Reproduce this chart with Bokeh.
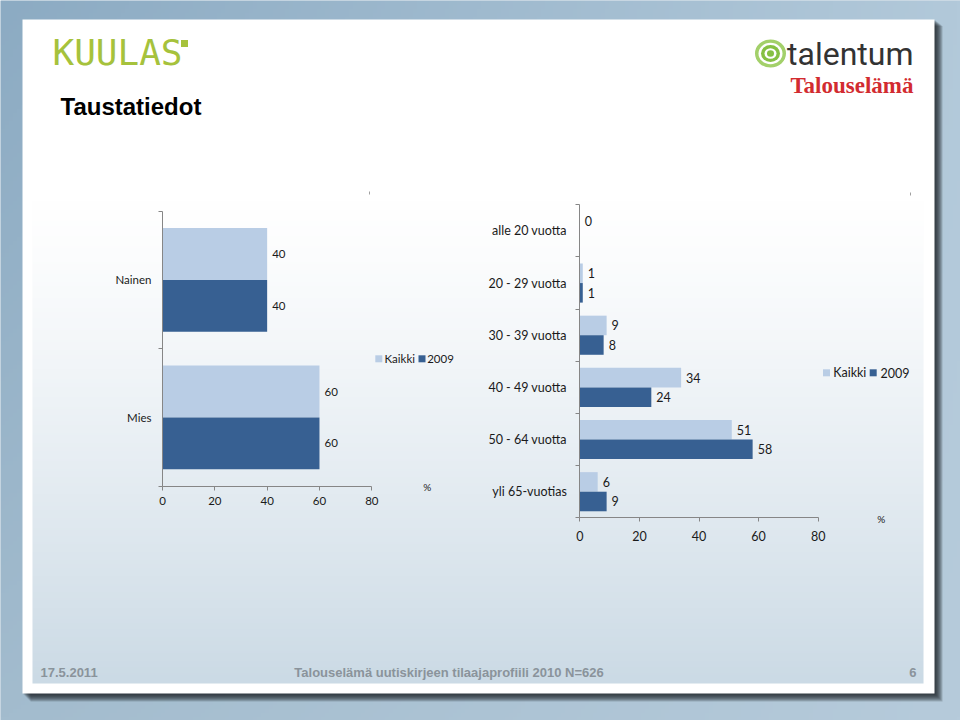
import numpy as np
from bokeh.plotting import figure
from bokeh.models import Range1d, LinearAxis, FixedTicker
from bokeh.core.properties import value
from bokeh.embed import file_html
from bokeh.resources import INLINE

# ---------------- data ----------------
gender_cats = ["Nainen", "Mies"]
gender_kaikki = [40, 60]
gender_2009 = [40, 60]

age_cats = ["alle 20 vuotta", "20 - 29 vuotta", "30 - 39 vuotta",
            "40 - 49 vuotta", "50 - 64 vuotta", "yli 65-vuotias"]
age_kaikki = [0, 1, 9, 34, 51, 6]
age_2009 = [None, 1, 8, 24, 58, 9]

series_names = ["Kaikki", "2009"]
x_ticks = [0, 20, 40, 60, 80]
unit_label = "%"

title_text = "Taustatiedot"
footer_date = "17.5.2011"
footer_source = "Talouselämä uutiskirjeen tilaajaprofiili 2010 N=626"
page_number = "6"
logo_left = "KUULAS"
logo_right = "talentum"
logo_right_sub = "Talouselämä"

# ---------------- style ----------------
LIGHT = "#B9CDE5"
DARK = "#376092"
AXIS = "#868686"
TXT = "#1a1a1a"
FOOT = "#8a939b"
W, H = 960, 720


def Y(py):
    return H - py


def lin_range(d0, v0, d1, v1, lo, hi):
    s = (v1 - v0) / (d1 - d0)
    return v0 + (lo - d0) * s, v0 + (hi - d0) * s


p = figure(width=W, height=H, x_range=Range1d(0, W), y_range=Range1d(0, H),
           output_backend="svg", toolbar_location=None, min_border=0,
           x_axis_type=None, y_axis_type=None)
p.outline_line_color = None
p.background_fill_color = "#a8c0d2"
p.border_fill_color = "#a8c0d2"

# ---------- page background (bilinear gradient) ----------
gw, gh = 240, 180
gx = np.linspace(0, 1, gw)[None, :, None]
gy = np.linspace(0, 1, gh)[:, None, None]  # row 0 = bottom
TL = np.array([140, 171, 195]); TR = np.array([178, 201, 218])
BL = np.array([163, 188, 206]); BR = np.array([182, 203, 219])
col = (BL * (1 - gx) * (1 - gy) + BR * gx * (1 - gy) + TL * (1 - gx) * gy + TR * gx * gy)
bg = np.empty((gh, gw), dtype=np.uint32)
v = bg.view(dtype=np.uint8).reshape((gh, gw, 4))
v[..., :3] = col.astype(np.uint8)
v[..., 3] = 255
p.image_rgba(image=[bg], x=0, y=0, dw=W, dh=H)

# ---------- card shadow ----------
ks = np.arange(1, 9)
p.quad(left=22 + ks, right=934 + ks, top=Y(19 + ks * 0.8), bottom=Y(693 + ks),
       fill_color="#1b2126", fill_alpha=0.19, line_color=None)
# card
p.quad(left=[22], right=[934], top=[Y(19)], bottom=[Y(693)], fill_color="white", line_color=None)

# ---------- inner panel gradient ----------
ih, iw = 330, 8
rows = np.arange(ih)
py = 683 - (rows + 0.5) * (655 / ih)
t = np.clip((py - 200) / 483.0, 0, 1) ** 1.25
bottom_col = np.array([203, 218, 229])
cc = 255 - t[:, None] * (255 - bottom_col[None, :])
ig = np.empty((ih, iw), dtype=np.uint32)
iv = ig.view(dtype=np.uint8).reshape((ih, iw, 4))
iv[..., :3] = cc[:, None, :].astype(np.uint8)
iv[..., 3] = 255
p.image_rgba(image=[ig], x=32, y=Y(683), dw=891, dh=655)

# ---------- logos & title ----------
p.text(x=[52], y=[Y(52)], text=[logo_left], text_font=value("DejaVu Sans Mono"),
       text_font_size="36px", text_color="#a6c23c", text_baseline="middle")
p.rect(x=[184], y=[Y(43)], width=7, height=7, fill_color="#a6c23c", line_color=None)

icx, icy = 770, Y(53)
for (ew, eh, c) in [(31, 28, "#a3d06a"), (24, 21.5, "white"), (19, 17, "#86c043"),
                    (12, 10.5, "white"), (7, 6.5, "#86c043")]:
    p.ellipse(x=[icx], y=[icy], width=ew, height=eh, fill_color=c, line_color=None)

p.text(x=[913], y=[Y(53)], text=[logo_right], text_font=value("Roboto"),
       text_font_size="32px", text_color="#333333", text_align="right",
       text_baseline="middle")
p.text(x=[913], y=[Y(84.5)], text=[logo_right_sub], text_font=value("Liberation Serif"),
       text_font_style="bold", text_font_size="23px", text_color="#d22b30",
       text_align="right", text_baseline="middle")

p.text(x=[60], y=[Y(105.5)], text=[title_text], text_font=value("Liberation Sans"),
       text_font_style="bold", text_font_size="24px", text_color="black",
       text_baseline="middle")

# tiny frame marks
p.segment(x0=[369, 910], y0=[Y(191), Y(192)], x1=[369, 910], y1=[Y(194), Y(195)],
          line_color="#a0a0a0", line_width=1)

# ---------- footer ----------
for tx, ta, txt in [(40, "left", footer_date), (448.5, "center", footer_source),
                    (916, "right", page_number)]:
    p.text(x=[tx], y=[Y(672)], text=[txt], text_font=value("Liberation Sans"),
           text_font_style="bold", text_font_size="13px", text_color=FOOT,
           text_align=ta, text_baseline="middle")


# ---------- charts ----------
def draw_chart(name, cats, s1, s2, px0, px80, py_bot, py_top, fs, cat_standoff,
               tick_standoff, legend_xy, pct_xy, bh):
    n = len(cats)
    xr, yr = name + "_x", name + "_y"
    p.extra_x_ranges[xr] = Range1d(*lin_range(px0, 0, px80, 80, 0, W))
    p.extra_y_ranges[yr] = Range1d(*lin_range(Y(py_bot), 0, Y(py_top), n, 0, H))
    centers = [n - i - 0.5 for i in range(n)]
    v1 = [np.nan if a is None else a for a in s1]
    v2 = [np.nan if a is None else a for a in s2]
    y1 = [c + bh / 2 for c in centers]
    y2 = [c - bh / 2 for c in centers]
    p.hbar(y=y1, left=0, right=v1, height=bh, fill_color=LIGHT, line_color=None,
           x_range_name=xr, y_range_name=yr)
    p.hbar(y=y2, left=0, right=v2, height=bh, fill_color=DARK, line_color=None,
           x_range_name=xr, y_range_name=yr)
    for vals, ys in [(s1, y1), (s2, y2)]:
        xs = [a for a in vals if a is not None]
        yy = [b for a, b in zip(vals, ys) if a is not None]
        p.text(x=xs, y=yy, text=[str(a) for a in xs], x_offset=5,
               text_font=value("Lato"), text_font_size=fs, text_color=TXT,
               text_align="left", text_baseline="middle",
               x_range_name=xr, y_range_name=yr)

    common = dict(x_range_name=xr, y_range_name=yr, fixed_location=0)
    xa = LinearAxis(bounds=(0, 80), ticker=FixedTicker(ticks=x_ticks, minor_ticks=[]), **common)
    xa.axis_line_color = AXIS
    xa.major_tick_line_color = AXIS
    xa.major_tick_in = 0
    xa.major_tick_out = 4
    xa.minor_tick_line_color = None
    xa.major_label_standoff = tick_standoff
    xa.major_label_text_font = "Lato"
    xa.major_label_text_font_size = fs
    xa.major_label_text_color = TXT
    p.add_layout(xa, "below")

    ya = LinearAxis(bounds=(0, n), ticker=FixedTicker(ticks=list(range(n + 1)), minor_ticks=[]),
                    **common)
    ya.axis_line_color = AXIS
    ya.major_tick_line_color = AXIS
    ya.major_tick_in = 0
    ya.major_tick_out = 4
    ya.minor_tick_line_color = None
    ya.major_label_text_color = None
    p.add_layout(ya, "left")

    yl = LinearAxis(ticker=FixedTicker(ticks=centers, minor_ticks=[]), **common)
    yl.axis_line_color = None
    yl.major_tick_line_color = None
    yl.minor_tick_line_color = None
    yl.major_tick_in = 0
    yl.major_tick_out = 0
    yl.major_label_standoff = cat_standoff
    yl.major_label_overrides = {float(c): cat for c, cat in zip(centers, cats)}
    yl.major_label_text_font = "Lato"
    yl.major_label_text_font_size = fs
    yl.major_label_text_color = TXT
    p.add_layout(yl, "left")

    # legend
    (sq1x, t1x, sq2x, t2x, ly) = legend_xy
    p.rect(x=[sq1x, sq2x], y=[Y(ly), Y(ly)], width=7, height=7,
           fill_color=[LIGHT, DARK], line_color=None)
    p.text(x=[t1x, t2x], y=[Y(ly), Y(ly)], text=series_names, text_font=value("Lato"),
           text_font_size=fs, text_color=TXT, text_align="left", text_baseline="middle")
    p.text(x=[pct_xy[0]], y=[Y(pct_xy[1])], text=[unit_label], text_font=value("Lato"),
           text_font_size="10px", text_color=TXT, text_align="center", text_baseline="middle")


draw_chart("g", gender_cats, gender_kaikki, gender_2009, 162, 371.3, 485.7, 210.7,
           "11.5px", 11, 7, (378.3, 384, 421.5, 426.7, 358.3), (426.7, 486.7), 0.377)
draw_chart("a", age_cats, age_kaikki, age_2009, 579.3, 817.7, 517.3, 204.3,
           "12.5px", 13, 9, (826, 832.7, 872.7, 880, 372.3), (880.7, 518.3), 0.375)

open("out.html", "w").write(file_html(p, INLINE))
